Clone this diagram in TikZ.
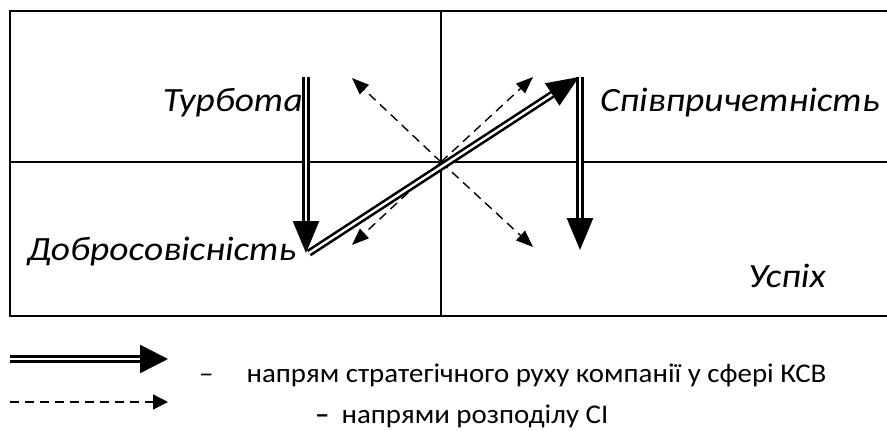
\documentclass[tikz,border=0pt]{standalone}
\usepackage{fontspec}
\setmainfont{Carlito}
\newfontfamily\lblfont[FakeStretch=1.1]{Carlito}
\newfontfamily\legfont[FakeStretch=1.07]{Carlito}
\usetikzlibrary{arrows.meta}
\begin{document}
\begin{tikzpicture}[x=1pt,y=-1pt,
  frame/.style={line width=1.6pt},
  dbl/.style={double, line width=2.6pt, double distance=2.4pt},
  bigtip/.style={-{Triangle[length=32pt,width=26pt]}},
  dsh/.style={line width=1.4pt, dash pattern=on 9pt off 6pt, -{Triangle[length=17pt,width=13pt]}},
  lbl/.style={font=\lblfont\fontsize{34}{38}\selectfont\itshape, inner sep=0pt},
  leg/.style={font=\legfont\fontsize{27}{30}\selectfont, inner sep=0pt}]
\useasboundingbox (0,0) rectangle (887,431);
% frame
\draw[frame] (892,11) -- (10,11) -- (10,316) -- (892,316);
\coordinate (c) at (441,162);
\coordinate (vt) at (441,11);
\coordinate (vb) at (441,316);
\coordinate (hl) at (10,162);
\coordinate (hr) at (892,162);
\draw[frame] (vt) -- (vb);
\draw[frame] (hl) -- (hr);
% labels
\node[lbl, anchor=base east] (tur) at (303,111) {Турбота};
\node[lbl, anchor=base west] (spi) at (600,111) {Співпричетність};
\node[lbl, anchor=base west] (dob) at (27,260) {Добросовісність};
\node[lbl, anchor=base west] (usp) at (748,287) {Успіх};
% dashed arrows
\coordinate (ul) at (352,78);
\coordinate (ur) at (533,77);
\coordinate (ll) at (352,245);
\coordinate (lr) at (533,247);
\draw[dsh] (c) -- (ul);
\draw[dsh] (c) -- (ur);
\draw[dsh] (c) -- (ll);
\draw[dsh] (c) -- (lr);
% strategic path
\coordinate (a1) at (306,77);
\coordinate (a2) at (306,253);
\coordinate (d1) at (309,253);
\coordinate (d2) at (579,77);
\coordinate (b1) at (580,77);
\coordinate (b2) at (580,250);
\draw[dbl, bigtip] (a1) -- (a2);
\draw[dbl, bigtip] (d1) -- (d2);
\draw[dbl, bigtip] (b1) -- (b2);
% legend
\coordinate (l1a) at (10,359);
\coordinate (l1b) at (168,359);
\coordinate (l2a) at (10,402);
\coordinate (l2b) at (168,402);
\draw[dbl, -{Triangle[length=28pt,width=28pt]}] (l1a) -- (l1b);
\draw[dsh, -{Triangle[length=15pt,width=15pt]}] (l2a) -- (l2b);
\node[leg, anchor=base west] (t1) at (199,382) {–\hspace{33pt}напрям стратегічного руху компанії у сфері КСВ};
\node[leg, anchor=base west] (t2) at (315,423) {\textbf{–}\hspace{12pt}напрями розподілу СІ};
\end{tikzpicture}
\end{document}
